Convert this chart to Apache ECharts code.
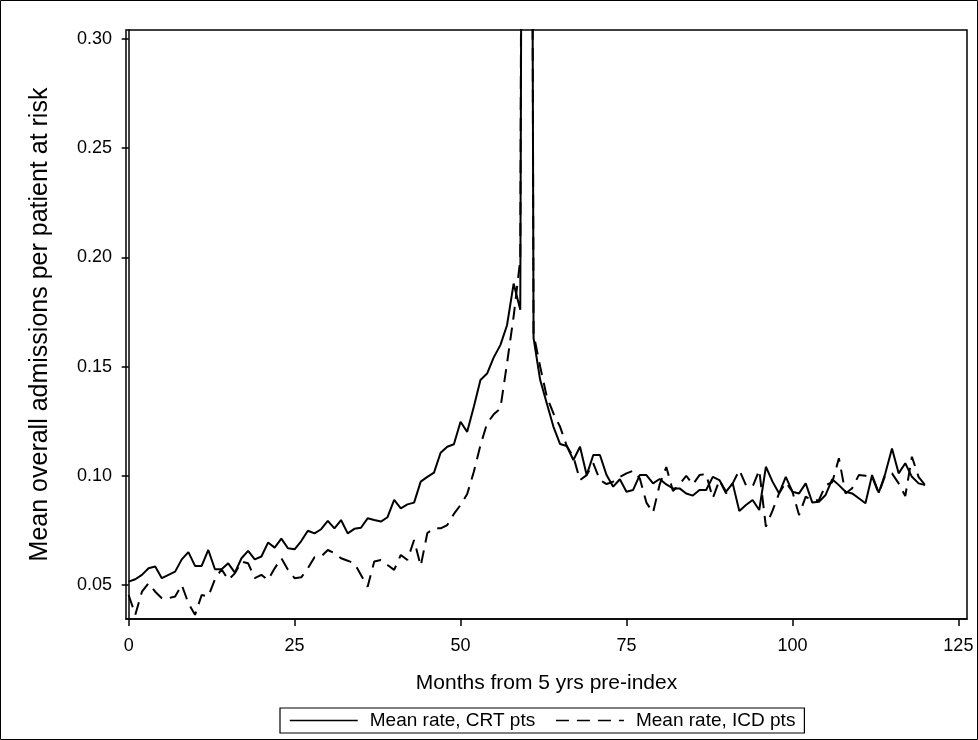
<!DOCTYPE html>
<html>
<head>
<meta charset="utf-8">
<script src="https://cdn.jsdelivr.net/npm/echarts@6/dist/echarts.min.js"></script>
<style>
  html, body { margin: 0; padding: 0; background: #fff; }
  #graph { width: 978px; height: 740px; }
</style>
</head>
<body>
<div id="graph"></div>
<script>
"use strict"

// months 0..120 from 5 yrs pre-index, index month (60) spikes off the top
const months = Array.from({ length: 121 }, (_, i) => i);

const crtRate = [
    0.0515, 0.0526, 0.0546, 0.0576, 0.0584, 0.0531, 0.0546, 0.0561, 0.0617, 0.0650,
    0.0587, 0.0587, 0.0660, 0.0572, 0.0572, 0.0599, 0.0556, 0.0622, 0.0656, 0.0617,
    0.0630, 0.0694, 0.0671, 0.0712, 0.0668, 0.0663, 0.0701, 0.0748, 0.0736, 0.0755,
    0.0793, 0.0759, 0.0797, 0.0736, 0.0757, 0.0762, 0.0805, 0.0797, 0.0790, 0.0810,
    0.0889, 0.0851, 0.0869, 0.0877, 0.0973, 0.0995, 0.1014, 0.1105, 0.1133, 0.1144,
    0.1247, 0.1201, 0.1316, 0.1438, 0.1468, 0.1542, 0.1598, 0.1689, 0.1880, 0.1760,
    1.2000, 0.1630, 0.1438, 0.1331, 0.1224, 0.1145, 0.1136, 0.1072, 0.1133, 0.1003,
    0.1095, 0.1095, 0.1003, 0.0950, 0.0984, 0.0927, 0.0935, 0.1003, 0.1003, 0.0965,
    0.0985, 0.0960, 0.0942, 0.0942, 0.0919, 0.0909, 0.0935, 0.0935, 0.0995, 0.0980,
    0.0927, 0.0965, 0.0839, 0.0866, 0.0889, 0.0843, 0.1041, 0.0973, 0.0919, 0.0995,
    0.0927, 0.0919, 0.0965, 0.0877, 0.0881, 0.0912, 0.0984, 0.0957, 0.0927, 0.0919,
    0.0897, 0.0874, 0.1003, 0.0922, 0.1011, 0.1125, 0.1011, 0.1057, 0.0995, 0.0965,
    0.0957
];

const icdRate = [
    0.0454, 0.0363, 0.0469, 0.0508, 0.0469, 0.0439, 0.0439, 0.0447, 0.0500, 0.0416,
    0.0363, 0.0454, 0.0447, 0.0526, 0.0572, 0.0523, 0.0553, 0.0607, 0.0599, 0.0531,
    0.0546, 0.0523, 0.0576, 0.0622, 0.0569, 0.0531, 0.0535, 0.0576, 0.0627, 0.0630,
    0.0660, 0.0645, 0.0622, 0.0611, 0.0599, 0.0546, 0.0492, 0.0607, 0.0614, 0.0591,
    0.0569, 0.0637, 0.0614, 0.0706, 0.0587, 0.0738, 0.0759, 0.0759, 0.0774, 0.0825,
    0.0866, 0.0916, 0.1018, 0.1140, 0.1240, 0.1281, 0.1308, 0.1514, 0.1730, 0.1990,
    1.2000, 0.1650, 0.1499, 0.1361, 0.1285, 0.1224, 0.1136, 0.1087, 0.0980, 0.1003,
    0.1057, 0.0980, 0.0962, 0.0973, 0.0995, 0.1011, 0.1023, 0.0988, 0.0877, 0.0831,
    0.0960, 0.1040, 0.0930, 0.0960, 0.1000, 0.0960, 0.1003, 0.1008, 0.0897, 0.0980,
    0.0919, 0.0965, 0.1026, 0.0957, 0.0950, 0.1026, 0.0767, 0.0840, 0.0920, 0.0970,
    0.0927, 0.0820, 0.0904, 0.0887, 0.0889, 0.0957, 0.0970, 0.1080, 0.0919, 0.0943,
    0.1003, 0.1000, 0.0995, 0.0919, 0.1003, 0.1011, 0.0965, 0.0907, 0.1087, 0.0995,
    0.0957
];

const xTicks = [0, 25, 50, 75, 100, 125];
const yTicks = [0.05, 0.10, 0.15, 0.20, 0.25, 0.30];

const seriesNames = ["Mean rate, CRT pts", "Mean rate, ICD pts"];

const fontFam = "'Liberation Sans', Arial, sans-serif";

const pair = arr => months.map((m, i) => [m, arr[i]]);

const myChart = echarts.init(document.getElementById("graph"), null, { renderer: "canvas" });

const option = {
    animation: false,
    backgroundColor: "#fff",
    textStyle: { fontFamily: fontFam, color: "#000" },
    grid: {
        left: 126, right: 11, top: 30, bottom: 121,
        show: true, borderColor: "#000", borderWidth: 1.5
    },
    legend: {
        data: seriesNames,
        left: 280, top: 708,
        itemWidth: 68, itemHeight: 14, itemGap: 20,
        padding: [3, 9, 3, 9],
        borderColor: "#000", borderWidth: 1.2, borderRadius: 0,
        itemStyle: { opacity: 0 },
        lineStyle: { width: 1.5 },
        textStyle: { fontFamily: fontFam, fontSize: 19, color: "#000", padding: [0, 0, 0, 7] }
    },
    xAxis: {
        type: "value",
        min: -0.4, max: 126.3,
        name: "Months from 5 yrs pre-index",
        nameLocation: "middle",
        nameGap: 54,
        nameTextStyle: { fontFamily: fontFam, fontSize: 21, color: "#000" },
        axisLine: { show: true, lineStyle: { color: "#000", width: 1.5 } },
        axisTick: { show: true, customValues: xTicks, length: 7, lineStyle: { color: "#000", width: 1.5 } },
        axisLabel: { customValues: xTicks, fontSize: 18, color: "#000", margin: 18 },
        splitLine: { show: false }
    },
    yAxis: {
        type: "value",
        min: 0.0344, max: 0.3041,
        name: "Mean overall admissions per patient at risk",
        nameLocation: "middle",
        nameGap: 73,
        nameTextStyle: { fontFamily: fontFam, fontSize: 25, color: "#000" },
        axisLine: { show: true, lineStyle: { color: "#000", width: 1.5 } },
        axisTick: { show: true, customValues: yTicks, length: 7, lineStyle: { color: "#000", width: 1.5 } },
        axisLabel: { customValues: yTicks, fontSize: 18, color: "#000", margin: 14, formatter: v => v.toFixed(2) },
        splitLine: { show: false }
    },
    series: [
        {
            name: seriesNames[0],
            type: "line",
            data: pair(crtRate),
            symbol: "none",
            clip: true,
            lineStyle: { color: "#000", width: 2 },
            itemStyle: { color: "#000" }
        },
        {
            name: seriesNames[1],
            type: "line",
            data: pair(icdRate),
            symbol: "none",
            clip: true,
            lineStyle: { color: "#000", width: 2, type: [13, 8] },
            itemStyle: { color: "#000" }
        }
    ],
    graphic: [{
        type: "rect",
        shape: { x: 0.5, y: 0.5, width: 977, height: 739 },
        style: { fill: null, stroke: "#000", lineWidth: 1 },
        silent: true
    }]
};
myChart.setOption(option);
</script>
</body>
</html>
